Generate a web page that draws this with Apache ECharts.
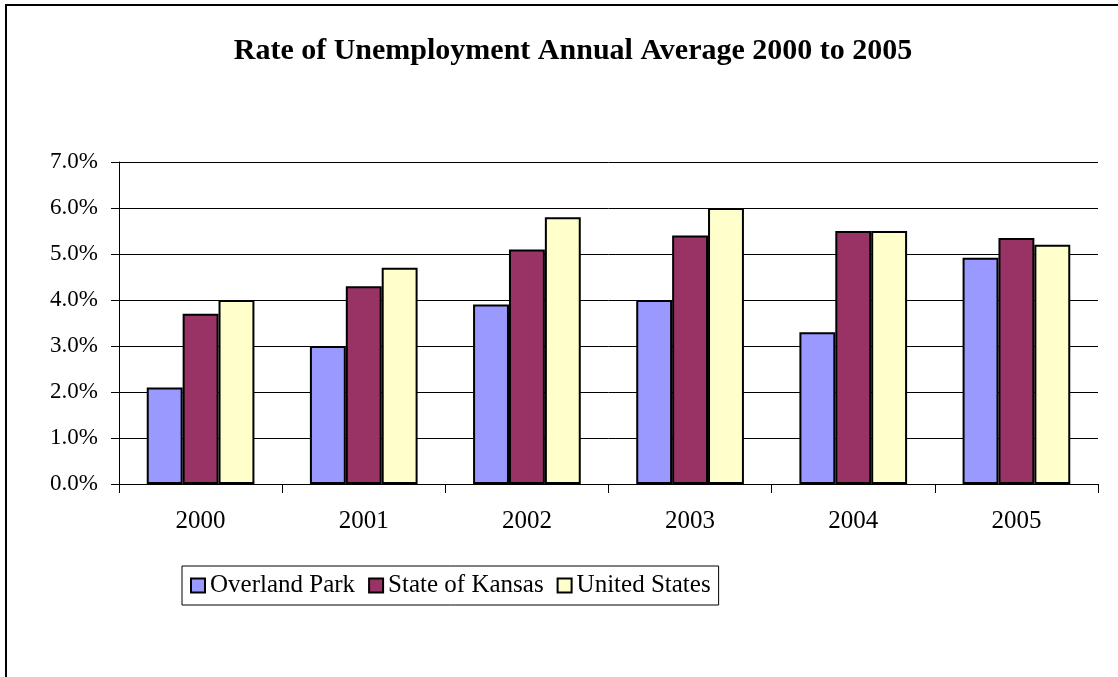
<!DOCTYPE html>
<html>
<head>
<meta charset="utf-8">
<script src="https://cdn.jsdelivr.net/npm/echarts@6/dist/echarts.min.js"></script>
<style>
html,body{margin:0;padding:0;background:#fff;}
#chart{width:1118px;height:677px;}
</style>
</head>
<body>
<div id="chart"></div>
<script>
const titleText = 'Rate of Unemployment Annual Average 2000 to 2005';
const years = ['2000', '2001', '2002', '2003', '2004', '2005'];
const overlandPark = [2.1, 3.0, 3.9, 4.0, 3.3, 4.92];
const stateOfKansas = [3.7, 4.3, 5.1, 5.4, 5.5, 5.35];
const unitedStates = [4.0, 4.7, 5.8, 6.0, 5.5, 5.2];
const seriesNames = ['Overland Park', 'State of Kansas', 'United States'];
const seriesColors = ['#9999FF', '#993366', '#FFFFCC'];

const font = '"Liberation Serif", "Times New Roman", serif';
const chart = echarts.init(document.getElementById('chart'));
const seriesData = [overlandPark, stateOfKansas, unitedStates];

chart.setOption({
  animation: false,
  backgroundColor: '#fff',
  title: {
    text: titleText,
    left: 568,
    textAlign: 'center',
    top: 31,
    textStyle: { fontFamily: font, fontSize: 30, fontWeight: 'bold', color: '#000' }
  },
  graphic: [{
    type: 'rect',
    shape: { x: 6, y: 5, width: 1300, height: 900 },
    style: { fill: 'none', stroke: '#000', lineWidth: 2 },
    silent: true
  }],
  legend: {
    left: 182,
    top: 566,
    padding: [7, 8, 7, 8],
    itemGap: 13,
    itemWidth: 14,
    itemHeight: 14,
    icon: 'rect',
    borderColor: '#000',
    borderWidth: 1,
    textStyle: { fontFamily: font, fontSize: 25, color: '#000', padding: [0, 0, 0, 0] },
    data: seriesNames
  },
  grid: { left: 119, right: 20, top: 162, bottom: 193 },
  xAxis: {
    type: 'category',
    data: years,
    axisLine: { lineStyle: { color: '#000', width: 1 } },
    axisTick: { show: true, length: 9, inside: false, lineStyle: { color: '#000' } },
    axisLabel: { fontFamily: font, fontSize: 25, color: '#000', margin: 25 }
  },
  yAxis: {
    type: 'value',
    min: 0,
    max: 7,
    interval: 1,
    axisLine: { show: true, lineStyle: { color: '#000', width: 1 } },
    axisTick: { show: true, length: 8, lineStyle: { color: '#000' } },
    axisLabel: {
      fontFamily: font, fontSize: 23, color: '#000', margin: 21,
      formatter: v => v.toFixed(1) + '%'
    },
    splitLine: { show: true, lineStyle: { color: '#000', width: 1 } }
  },
  series: seriesNames.map((name, i) => ({
    name: name,
    type: 'bar',
    data: seriesData[i],
    barGap: '0%',
    barCategoryGap: '34%',
    itemStyle: { color: seriesColors[i], borderColor: '#000', borderWidth: 2 }
  }))
});
</script>
</body>
</html>
